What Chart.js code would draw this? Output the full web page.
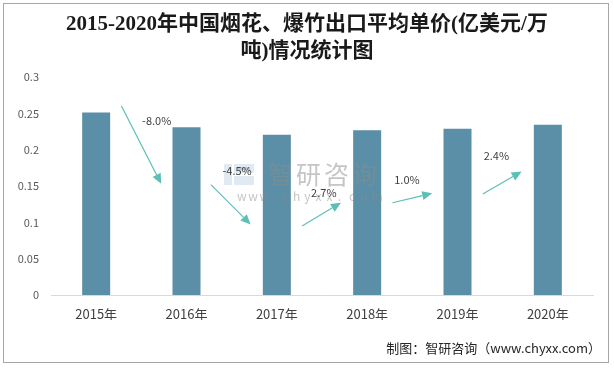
<!DOCTYPE html>
<html>
<head>
<meta charset="utf-8">
<script src="https://cdn.jsdelivr.net/npm/chart.js@4/dist/chart.umd.min.js"></script>
<style>
  html, body { margin: 0; padding: 0; background: #fff; }
  #wrap { position: relative; width: 614px; height: 368px; }
  #frame { position: absolute; left: 3px; top: 3px; width: 604px; height: 358px; border: 1px solid #a6a6a6; }
  canvas { position: absolute; left: 0; top: 0; }
</style>
</head>
<body>
<div id="wrap">
  <div id="frame"></div>
  <canvas id="chart" width="614" height="368"></canvas>
</div>
<script>
const TITLE = ['2015-2020年中国烟花、爆竹出口平均单价(亿美元/万', '吨)情况统计图'];
const SOURCE = '制图：智研咨询（www.chyxx.com）';

const years = ['2015年', '2016年', '2017年', '2018年', '2019年', '2020年'];
const prices = [0.251, 0.231, 0.2206, 0.2266, 0.2289, 0.2344];
const yTicks = [0, 0.05, 0.1, 0.15, 0.2, 0.25, 0.3];

// growth arrows, in (category index, value) units
const growthLabels = ['-8.0%', '-4.5%', '2.7%', '1.0%', '2.4%'];
const labelAt = [[0.67, 0.240], [1.56, 0.171], [2.52, 0.141], [3.44, 0.158], [4.43, 0.192]];
const arrowFrom = [[0.28, 0.260], [1.27, 0.152], [2.28, 0.095], [3.28, 0.127], [4.28, 0.139]];
const arrowTo = [[0.72, 0.153], [1.71, 0.097], [2.71, 0.127], [3.72, 0.140], [4.71, 0.170]];

const FONT = '"Noto Sans CJK SC", "Noto Sans", sans-serif';
const TITLE_FONT = '"Liberation Serif", "Noto Sans CJK SC", serif';
const ARROW = '#5cbfb6';

const growthArrows = {
  id: 'growthArrows',
  afterDatasetsDraw(chart) {
    const { ctx, scales: { x, y } } = chart;
    ctx.save();

    // watermark
    ctx.globalAlpha = 0.5;
    ctx.fillStyle = '#c3d3e8';
    ctx.fillRect(224, 164, 8, 21);
    ctx.fillRect(234, 164, 20, 9);
    ctx.fillRect(234, 176, 20, 9);
    ctx.fillStyle = '#9aa6b4';
    ctx.fillRect(238, 167, 12, 3);
    ctx.fillStyle = '#8c8c8c';
    ctx.font = '25px ' + FONT;
    ctx.textBaseline = 'middle';
    ctx.textAlign = 'left';
    '智研咨询'.split('').forEach((c, i) => ctx.fillText(c, 268 + i * 28, 174));
    ctx.font = '12px ' + FONT;
    'www.chyxx.com'.split('').forEach((c, i) => ctx.fillText(c, 237 + i * 11.2, 196));
    ctx.globalAlpha = 1;

    ctx.strokeStyle = ARROW;
    ctx.fillStyle = ARROW;
    ctx.lineWidth = 1.2;
    arrowFrom.forEach((f, i) => {
      const x1 = x.getPixelForValue(f[0]), y1 = y.getPixelForValue(f[1]);
      const x2 = x.getPixelForValue(arrowTo[i][0]), y2 = y.getPixelForValue(arrowTo[i][1]);
      const a = Math.atan2(y2 - y1, x2 - x1);
      const hl = 10, hw = 4.5;
      const bx = x2 - hl * Math.cos(a), by = y2 - hl * Math.sin(a);
      ctx.beginPath();
      ctx.moveTo(x1, y1);
      ctx.lineTo(bx, by);
      ctx.stroke();
      ctx.beginPath();
      ctx.moveTo(x2, y2);
      ctx.lineTo(bx + hw * Math.sin(a), by - hw * Math.cos(a));
      ctx.lineTo(bx - hw * Math.sin(a), by + hw * Math.cos(a));
      ctx.closePath();
      ctx.fill();
    });

    ctx.fillStyle = '#404040';
    ctx.font = '11px ' + FONT;
    ctx.textAlign = 'center';
    ctx.textBaseline = 'middle';
    growthLabels.forEach((t, i) => {
      ctx.fillText(t, x.getPixelForValue(labelAt[i][0]), y.getPixelForValue(labelAt[i][1]));
    });

    ctx.fillStyle = '#262626';
    ctx.font = '13px ' + FONT;
    ctx.textAlign = 'right';
    ctx.fillText(SOURCE, 601, 348);
    ctx.restore();
  }
};

new Chart(document.getElementById('chart').getContext('2d'), {
  type: 'bar',
  data: {
    labels: years,
    datasets: [{
      data: prices,
      backgroundColor: '#5b8fa7',
      borderWidth: 0,
      barPercentage: 0.31,
      categoryPercentage: 1.0,
    }]
  },
  options: {
    responsive: false,
    animation: false,
    layout: { padding: { left: 0, right: 0, top: 0, bottom: 48 } },
    plugins: {
      legend: { display: false },
      tooltip: { enabled: false },
      title: {
        display: true,
        text: TITLE,
        color: '#1a1a1a',
        font: { family: TITLE_FONT, size: 21, weight: 'bold', lineHeight: 1.286 },
        padding: { top: 11.5, bottom: 11.5 }
      }
    },
    scales: {
      x: {
        grid: { display: false, drawTicks: false },
        border: { display: true, color: '#d9d9d9', width: 1 },
        ticks: { color: '#404040', font: { family: FONT, size: 13 }, padding: 11, maxRotation: 0 },
        afterFit(s) { s.height = 25; }
      },
      y: {
        min: 0, max: 0.3,
        grid: { display: false, drawTicks: false },
        border: { display: false },
        afterBuildTicks(s) { s.ticks = yTicks.map(v => ({ value: v })); },
        ticks: { color: '#595959', font: { family: FONT, size: 11 }, padding: 12, callback: v => String(v) },
        afterFit(s) { s.width = 51; }
      },
      // empty right axis: keeps the plot 21px off the right edge while the title stays centred
      yRight: {
        position: 'right',
        grid: { display: false, drawTicks: false },
        border: { display: false },
        ticks: { display: false },
        afterFit(s) { s.width = 21; }
      }
    }
  },
  plugins: [growthArrows]
});
</script>
</body>
</html>
